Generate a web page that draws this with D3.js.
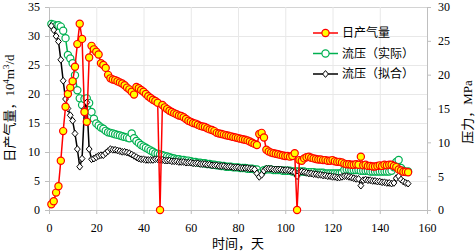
<!DOCTYPE html>
<html>
<head>
<meta charset="utf-8">
<script src="https://cdn.jsdelivr.net/npm/d3@7"></script>
<style>
  body { margin: 0; background: #fff; }
  svg text { font-family: "Liberation Serif", "Noto Sans CJK SC", serif; }
</style>
</head>
<body>
<div id="chart"></div>
<script>
// daily gas rate, 10^4 m3/d (left axis), day 1..152
const gasRate = [
  1.0, 1.5, 3.0, 4.1, 8.5, 13.6, 17.8, 20.0, 21.1, 22.2,
  24.7, 28.6, 32.1, 29.5, 16.9, 15.2, 26.3, 28.3, 27.7, 27.3,
  26.8, 25.3, 25.0, 24.5, 23.3, 22.7, 22.5, 22.4, 22.2, 22.0,
  21.8, 21.5, 21.1, 20.8, 20.4, 19.9, 21.2, 21.0, 20.7, 20.4,
  20.0, 19.6, 19.3, 19.0, 18.8, 18.5, 0, 18.1, 17.7, 17.4,
  17.1, 16.9, 16.7, 16.5, 16.3, 16.2, 16.0, 15.7, 15.4, 15.2,
  15.0, 14.9, 14.7, 14.5, 14.4, 14.3, 14.1, 13.9, 13.8, 13.6,
  13.3, 13.2, 13.1, 13.0, 12.9, 12.8, 12.7, 12.6, 12.5, 12.4,
  12.3, 12.2, 12.1, 12.0, 11.8, 11.6, 11.4, 11.2, 13.1, 13.3,
  12.5, 10.4, 10.1, 9.9, 9.8, 9.7, 9.6, 9.5, 9.4, 9.3,
  9.3, 9.2, 9.3, 9.8, 0, 8.6, 8.5, 8.9, 9.1, 9.2,
  9.0, 8.9, 8.8, 8.7, 8.7, 8.6, 8.6, 8.5, 8.5, 8.6,
  8.4, 8.3, 8.3, 8.2, 8.0, 7.9, 7.9, 7.8, 7.8, 7.9,
  7.8, 9.2, 7.7, 7.8, 7.6, 7.6, 7.5, 7.5, 7.6, 7.7,
  7.6, 7.8, 7.7, 7.8, 7.8, 7.6, 7.4, 7.0, 6.8, 6.6,
  6.6, 6.5
];

// flowing pressure, measured, MPa (right axis)
const pressureActual = [
  27.5, 27.4, 27.2, 27.3, 27.1, 26.5, 25.4, 22.9, 22.4, 21.7,
  19.9, 17.7, 16.5, 15.5, 16.4, 16.5, 15.8, 14.5, 13.5, 12.8,
  12.5, 12.2, 12.0, 11.7, 11.5, 11.4, 11.3, 11.2, 11.1, 11.0,
  10.9, 10.8, 10.7, 10.6, 11.3, 10.6, 10.2, 9.9, 9.6, 9.4,
  9.2, 9.0, 8.8, 8.6, 8.4, 8.3, 8.2, 8.1, 8.0, 7.9,
  7.8, 7.7, 7.6, 7.5, 7.5, 7.4, 7.4, 7.3, 7.3, 7.2,
  7.1, 7.1, 7.0, 7.0, 6.9, 6.9, 6.8, 6.8, 6.7, 6.7,
  6.6, 6.6, 6.5, 6.5, 6.4, 6.4, 6.4, 6.3, 6.3, 6.3,
  6.2, 6.2, 6.2, 6.1, 6.1, 6.1, 6.0, 6.0, 5.4, 5.6,
  5.9, 6.0, 6.0, 6.0, 5.9, 5.9, 5.9, 5.9, 5.8, 5.8,
  5.8, 5.8, 5.7, 5.7, 5.7, 5.7, 5.7, 5.7, 5.6, 5.6,
  5.6, 5.6, 5.5, 5.5, 5.5, 5.5, 5.4, 5.4, 5.4, 5.4,
  5.4, 5.4, 5.4, 5.5, 5.9, 6.0, 6.0, 5.9, 5.9, 5.9,
  5.9, 5.8, 5.8, 5.8, 5.8, 5.7, 5.7, 5.7, 5.7, 5.7,
  5.7, 5.7, 5.7, 5.7, 5.8, 6.3, 7.1, 7.4, 6.2, 5.8,
  5.6, 5.7
];

// flowing pressure, fitted, MPa (right axis)
const pressureFit = [
  27.2, 26.6, 25.7, 24.9, 22.2, 19.1, 16.4, 15.0, 14.0, 13.2,
  11.3, 9.0, 6.4, 7.6, 14.9, 15.9, 9.0, 7.5, 7.6, 7.8,
  8.0, 8.1, 8.1, 8.4, 8.7, 9.0, 8.9, 8.9, 8.8, 8.7,
  8.6, 8.6, 8.5, 8.4, 8.2, 8.0, 7.8, 7.6, 7.5, 7.5,
  7.4, 7.4, 7.4, 7.4, 7.5, 7.5, 7.4, 7.4, 7.3, 7.3,
  7.3, 7.2, 7.2, 7.2, 7.1, 7.1, 7.1, 7.0, 7.0, 7.0,
  6.9, 6.9, 6.9, 6.8, 6.8, 6.8, 6.7, 6.7, 6.6, 6.6,
  6.6, 6.5, 6.5, 6.5, 6.4, 6.4, 6.4, 6.3, 6.3, 6.3,
  6.2, 6.2, 6.2, 6.2, 6.1, 6.1, 6.0, 5.4, 4.9, 5.2,
  5.8, 6.1, 6.1, 6.1, 6.0, 6.0, 6.0, 6.0, 5.9, 5.9,
  5.9, 5.8, 5.7, 5.6, 5.0, 5.6, 5.7, 5.6, 5.5, 5.4,
  5.4, 5.3, 5.3, 5.2, 5.2, 5.1, 5.1, 5.0, 5.0, 4.9,
  4.9, 4.8, 4.8, 4.9, 5.0, 5.0, 4.9, 4.8, 4.7, 4.6,
  4.6, 3.6, 4.4, 4.5, 4.4, 4.4, 4.3, 4.3, 4.2, 4.2,
  4.1, 4.1, 4.0, 4.0, 3.9, 4.0, 4.7, 5.0, 4.5, 4.2,
  4.0, 3.9
];

const xTicks = [0, 20, 40, 60, 80, 100, 120, 140, 160];
const leftTicks = [0, 5, 10, 15, 20, 25, 30, 35];
const rightTicks = [0, 5, 10, 15, 20, 25, 30];
const legendLabels = ["日产气量", "流压（实际）", "流压（拟合）"];

const width = 476, height = 252;
const plot = { left: 49, right: 427, top: 7, bottom: 210 };

const svg = d3.select("#chart").append("svg")
  .attr("width", width)
  .attr("height", height);

svg.append("rect").attr("width", width).attr("height", height).attr("fill", "#fff");

const x = d3.scaleLinear().domain([0, 160]).range([plot.left, plot.right]);
const yLeft = d3.scaleLinear().domain([0, 35]).range([plot.bottom, plot.top]);
const yRight = d3.scaleLinear().domain([0, 30]).range([plot.bottom, plot.top]);

// gridlines
svg.append("g").selectAll("line").data(leftTicks).join("line")
  .attr("x1", plot.left).attr("x2", plot.right)
  .attr("y1", d => yLeft(d) + 0.5).attr("y2", d => yLeft(d) + 0.5)
  .attr("stroke", d => d === 35 ? "#d4d4d4" : "#e8e8e8");
svg.append("g").selectAll("line").data(xTicks.slice(1, -1)).join("line")
  .attr("x1", d => x(d) + 0.5).attr("x2", d => x(d) + 0.5)
  .attr("y1", plot.top).attr("y2", plot.bottom)
  .attr("stroke", "#e8e8e8");

function styleAxis(g) {
  g.selectAll("path, line").attr("stroke", "#bfbfbf");
  g.selectAll("text").attr("font-size", 12).attr("fill", "#000");
}

svg.append("g")
  .attr("transform", `translate(0,${plot.bottom})`)
  .call(d3.axisBottom(x).tickValues(xTicks).tickSize(4).tickPadding(9).tickSizeOuter(0))
  .call(styleAxis);

svg.append("g")
  .attr("transform", `translate(${plot.left},0)`)
  .call(d3.axisLeft(yLeft).tickValues(leftTicks).tickSize(4).tickPadding(5).tickSizeOuter(0))
  .call(styleAxis);

svg.append("g")
  .attr("transform", `translate(${plot.right},0)`)
  .call(d3.axisRight(yRight).tickValues(rightTicks).tickSize(4).tickPadding(7).tickSizeOuter(0))
  .call(styleAxis);

// series, drawn so that the gas rate sits on top
const series = [
  { values: pressureActual, y: yRight, color: "#00b050", marker: "circle", fill: "#fff" },
  { values: pressureFit, y: yRight, color: "#000", marker: "diamond", fill: "#fff" },
  { values: gasRate, y: yLeft, color: "#ff0000", marker: "circle", fill: "#ffff00" },
];

const diamond = "M0,-3.4L2.9,0L0,3.4L-2.9,0Z";

series.forEach(s => {
  const pts = s.values.map((v, i) => [x(i + 1), s.y(v)]);
  svg.append("path")
    .attr("d", d3.line()(pts))
    .attr("fill", "none")
    .attr("stroke", s.color)
    .attr("stroke-width", 1.5);
  const g = svg.append("g");
  if (s.marker === "circle") {
    g.selectAll("circle").data(pts).join("circle")
      .attr("cx", d => d[0]).attr("cy", d => d[1]).attr("r", 3.6)
      .attr("fill", s.fill).attr("stroke", s.color).attr("stroke-width", 1.2);
  } else {
    g.selectAll("path").data(pts).join("path")
      .attr("transform", d => `translate(${d[0]},${d[1]})`)
      .attr("d", diamond)
      .attr("fill", s.fill).attr("stroke", s.color).attr("stroke-width", 1);
  }
});

// legend
const legendStyle = [
  { color: "#ff0000", marker: "circle", fill: "#ffff00" },
  { color: "#00b050", marker: "circle", fill: "#fff" },
  { color: "#000", marker: "diamond", fill: "#fff" },
];
const legend = svg.append("g").attr("transform", "translate(313,33)");
legendLabels.forEach((label, i) => {
  const st = legendStyle[i];
  const row = legend.append("g").attr("transform", `translate(0,${i * 20.5})`);
  row.append("line").attr("x1", 0).attr("x2", 25).attr("stroke", st.color).attr("stroke-width", 1.5);
  if (st.marker === "circle") {
    row.append("circle").attr("cx", 12.5).attr("r", 3.6)
      .attr("fill", st.fill).attr("stroke", st.color).attr("stroke-width", 1.2);
  } else {
    row.append("path").attr("transform", "translate(12.5,0)").attr("d", diamond)
      .attr("fill", st.fill).attr("stroke", st.color);
  }
  row.append("text").attr("x", 29).attr("dy", "0.35em")
    .attr("font-size", 12).text(label);
});

// axis titles
svg.append("text")
  .attr("x", 238).attr("y", 248)
  .attr("text-anchor", "middle").attr("font-size", 13)
  .text("时间，天");

const leftTitle = svg.append("text")
  .attr("transform", "translate(14,108) rotate(-90)")
  .attr("text-anchor", "middle").attr("font-size", 13);
leftTitle.append("tspan").text("日产气量，10");
leftTitle.append("tspan").attr("dy", -5).attr("font-size", 9).text("4");
leftTitle.append("tspan").attr("dy", 5).text("m");
leftTitle.append("tspan").attr("dy", -5).attr("font-size", 9).text("3");
leftTitle.append("tspan").attr("dy", 5).text("/d");

svg.append("text")
  .attr("transform", "translate(472,112) rotate(-90)")
  .attr("text-anchor", "middle").attr("font-size", 13)
  .text("压力，MPa");
</script>
</body>
</html>
